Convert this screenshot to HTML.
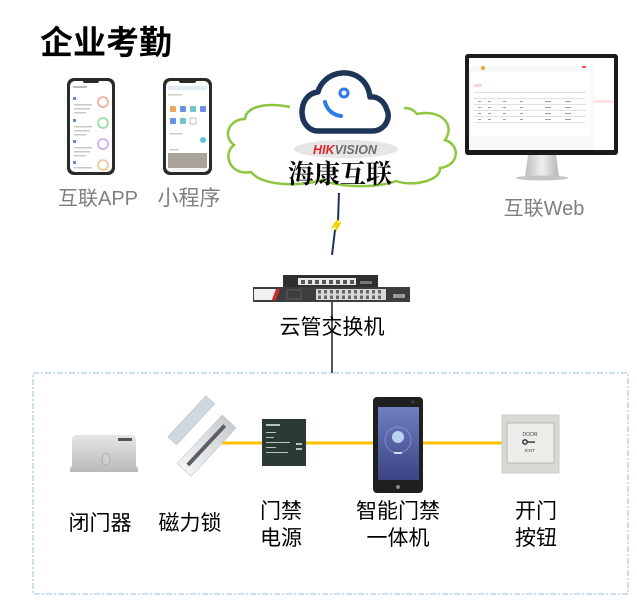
<!DOCTYPE html>
<html><head><meta charset="utf-8"><style>
html,body{margin:0;padding:0;background:#fff;}
svg{display:block;}
.cn{font-family:"Liberation Sans","Noto Sans CJK SC",sans-serif;}
</style></head><body>
<svg width="637" height="603" viewBox="0 0 637 603" xmlns="http://www.w3.org/2000/svg">
<defs>
<linearGradient id="silver" x1="0" y1="0" x2="0" y2="1"><stop offset="0" stop-color="#e6e6e6"/><stop offset="1" stop-color="#b9b9b9"/></linearGradient>
<linearGradient id="scr" x1="0" y1="0" x2="0" y2="1"><stop offset="0" stop-color="#6f7fc0"/><stop offset="1" stop-color="#3c4384"/></linearGradient>
<linearGradient id="neck" x1="0" y1="0" x2="1" y2="0"><stop offset="0" stop-color="#bdbdbd"/><stop offset="0.5" stop-color="#f0f0f0"/><stop offset="1" stop-color="#b5b5b5"/></linearGradient>
<linearGradient id="lock" x1="0" y1="0" x2="1" y2="0"><stop offset="0" stop-color="#f4f4f4"/><stop offset="1" stop-color="#c9ccd0"/></linearGradient>
</defs>

<!-- title -->
<text x="40" y="54" class="cn" font-size="33" font-weight="bold" fill="#000">企业考勤</text>

<!-- phone 1 -->
<rect x="67" y="78" width="48" height="97" rx="7" fill="#2a2a2a"/>
<rect x="70" y="81" width="42" height="91" rx="5" fill="#fff"/>
<rect x="83" y="79" width="16" height="4" rx="2" fill="#2a2a2a"/>
<rect x="73" y="86" width="14" height="2" fill="#bbb"/>
<g fill="#c8c8c8">
<rect x="74" y="104" width="18" height="1.5"/><rect x="74" y="108" width="16" height="1.5"/><rect x="74" y="112" width="12" height="1.5"/>
<rect x="74" y="126" width="18" height="1.5"/><rect x="74" y="130" width="16" height="1.5"/><rect x="74" y="134" width="12" height="1.5"/>
<rect x="74" y="147" width="18" height="1.5"/><rect x="74" y="151" width="16" height="1.5"/><rect x="74" y="155" width="12" height="1.5"/>
<rect x="74" y="167" width="18" height="1.5"/>
</g>
<g fill="#5b8fe0"><rect x="73" y="97" width="3" height="3"/><rect x="73" y="119" width="3" height="3"/><rect x="73" y="140" width="3" height="3"/><rect x="73" y="161" width="3" height="3"/></g>
<circle cx="103" cy="102" r="5" fill="none" stroke="#f2a58a" stroke-width="1.5"/>
<circle cx="103" cy="123" r="5" fill="none" stroke="#8fdc9b" stroke-width="1.5"/>
<circle cx="103" cy="144" r="5" fill="none" stroke="#caa2ec" stroke-width="1.5"/>
<circle cx="103" cy="165" r="5" fill="none" stroke="#f6c08a" stroke-width="1.5"/>

<!-- phone 2 -->
<rect x="163" y="78" width="49" height="97" rx="7" fill="#2a2a2a"/>
<rect x="166" y="81" width="43" height="91" rx="5" fill="#fff"/>
<rect x="179" y="79" width="17" height="4" rx="2" fill="#2a2a2a"/>
<rect x="168" y="86" width="39" height="4" fill="#e3ebf7"/>
<rect x="168" y="94" width="14" height="1.5" fill="#ccc"/>
<g>
<rect x="170" y="106" width="6" height="6" rx="1" fill="#f0a860"/>
<rect x="180" y="106" width="6" height="6" rx="1" fill="#6a8fe6"/>
<rect x="190" y="106" width="6" height="6" rx="1" fill="#6cc5cf"/>
<rect x="200" y="106" width="6" height="6" rx="1" fill="#6a8fe6"/>
<rect x="170" y="118" width="6" height="6" rx="1" fill="#6a8fe6"/>
<rect x="180" y="118" width="6" height="6" rx="1" fill="#6cc5cf"/>
<rect x="190" y="118" width="6" height="6" rx="1" fill="none" stroke="#bbb"/>
</g>
<rect x="169" y="133" width="14" height="1.5" fill="#ccc"/>
<circle cx="203" cy="140" r="3" fill="#58c7d6"/>
<rect x="169" y="149" width="10" height="1.5" fill="#ccc"/>
<rect x="168" y="153" width="39" height="15" fill="#a9a39a"/>
<rect x="168" y="168" width="39" height="3" fill="#f4f4f4"/>

<text x="98" y="205" class="cn" font-size="20" fill="#7f7f7f" text-anchor="middle">互联APP</text>
<text x="189" y="205" class="cn" font-size="21" fill="#7f7f7f" text-anchor="middle">小程序</text>

<!-- green cloud -->
<path d="M 290 107 C 265 102, 246 107, 245 119 C 229 119, 222 136, 234 145 C 222 154, 230 176, 251 172 C 262 186, 300 187, 322 180 C 342 188, 378 188, 396 181 C 412 187, 441 181, 440 168 C 459 166, 461 145, 445 140 C 456 124, 440 109, 417 114 C 413 109, 409 108, 404 108" fill="none" stroke="#8dc63f" stroke-width="2.5"/>

<!-- blue cloud icon -->
<path d="M 318 131 L 372 131 C 385 131, 391 118, 387 110 C 384 100, 376 96, 370 97 C 368 80, 355 72, 342 73 C 328 74, 320 84, 318 92 C 308 93, 302 102, 302 112 C 302 124, 310 131, 318 131 Z" fill="#fff" stroke="#1e3558" stroke-width="5.5" stroke-linejoin="round"/>
<circle cx="344" cy="93" r="4" fill="none" stroke="#2f7be5" stroke-width="3"/>
<path d="M 325 102 C 327 110, 333 115, 341 116" fill="none" stroke="#2f7be5" stroke-width="4" stroke-linecap="round"/>

<!-- hikvision -->
<ellipse cx="346" cy="149" rx="52" ry="9" fill="#e6e6e6"/>
<text x="345" y="154" font-family="Liberation Sans, sans-serif" font-size="12.5" font-weight="bold" font-style="italic" text-anchor="middle"><tspan fill="#e1222a">HIK</tspan><tspan fill="#6d6d6d">VISION</tspan></text>
<text x="340" y="183" font-family="'Liberation Serif','Noto Serif CJK SC',serif" font-size="26" font-weight="bold" fill="#000" text-anchor="middle">海康互联</text>

<!-- monitor -->
<rect x="465" y="54" width="153" height="101" rx="3" fill="#1b1b1b"/>
<rect x="469" y="58" width="145" height="92" fill="#f7f8fa"/>
<rect x="469" y="58" width="145" height="8" fill="#fff"/>
<circle cx="483" cy="68" r="2.2" fill="#e8b33d"/>
<rect x="582" y="66" width="4" height="2" fill="#e55"/>
<rect x="594" y="58" width="20" height="92" fill="#fff"/>
<rect x="594" y="100" width="20" height="3" fill="#fde3e3"/>
<rect x="471" y="72" width="120" height="64" fill="#fff"/>
<rect x="474" y="84" width="8" height="3" fill="#fbd6d6"/>
<g fill="#d6d8de">
<rect x="474" y="92" width="112" height="0.8"/><rect x="474" y="98" width="112" height="0.8"/><rect x="474" y="104" width="112" height="0.8"/>
<rect x="474" y="110" width="112" height="0.8"/><rect x="474" y="116" width="112" height="0.8"/><rect x="474" y="122" width="112" height="0.8"/>
</g>
<g fill="#9a9ea8">
<rect x="478" y="101" width="3" height="1"/><rect x="488" y="101" width="3" height="1"/><rect x="503" y="101" width="3" height="1"/><rect x="520" y="101" width="3" height="1"/><rect x="545" y="101" width="6" height="1"/><rect x="565" y="101" width="6" height="1"/>
<rect x="478" y="107" width="3" height="1"/><rect x="488" y="107" width="3" height="1"/><rect x="503" y="107" width="3" height="1"/><rect x="520" y="107" width="3" height="1"/><rect x="545" y="107" width="6" height="1"/><rect x="565" y="107" width="6" height="1"/>
<rect x="478" y="113" width="3" height="1"/><rect x="488" y="113" width="3" height="1"/><rect x="503" y="113" width="3" height="1"/><rect x="520" y="113" width="3" height="1"/><rect x="545" y="113" width="6" height="1"/><rect x="565" y="113" width="6" height="1"/>
<rect x="478" y="119" width="3" height="1"/><rect x="488" y="119" width="3" height="1"/><rect x="503" y="119" width="3" height="1"/><rect x="520" y="119" width="3" height="1"/><rect x="545" y="119" width="6" height="1"/><rect x="565" y="119" width="6" height="1"/>
</g>
<path d="M 528 155 L 556 155 L 559 177 L 525 177 Z" fill="url(#neck)"/>
<ellipse cx="542" cy="178" rx="26" ry="2.5" fill="#c4c4c4"/>
<text x="544" y="215" class="cn" font-size="20" fill="#7f7f7f" text-anchor="middle">互联Web</text>

<!-- lightning connector -->
<path d="M 339 193 L 338 221" stroke="#1e3558" stroke-width="2" fill="none"/>
<path d="M 338 220 L 334 226 L 339 224 L 335 231" stroke="#f4d000" stroke-width="2.5" fill="none"/>
<path d="M 335 230 L 332 255" stroke="#1e3558" stroke-width="2" fill="none"/>

<!-- switch -->
<rect x="283" y="275" width="95" height="13" fill="#2f2f2f"/>
<rect x="298" y="278" width="58" height="7" fill="#e9e9e9"/>
<g fill="#555"><rect x="301" y="280" width="4" height="4"/><rect x="308" y="280" width="4" height="4"/><rect x="315" y="280" width="4" height="4"/><rect x="322" y="280" width="4" height="4"/><rect x="329" y="280" width="4" height="4"/><rect x="336" y="280" width="4" height="4"/><rect x="343" y="280" width="4" height="4"/><rect x="350" y="280" width="4" height="4"/></g>
<rect x="360" y="281" width="12" height="3" fill="#777"/>
<rect x="253" y="287" width="157" height="15" fill="#3d3d3d"/>
<path d="M 254 289 L 276 289 L 272 300 L 254 300 Z" fill="#f0f0f0"/>
<path d="M 272 300 L 276 289 L 280 289 L 276 300 Z" fill="#d42a2a"/>
<rect x="287" y="290" width="14" height="9" fill="none" stroke="#666" stroke-width="0.8"/>
<rect x="316" y="289" width="70" height="11" fill="#d9d9d9"/>
<g fill="#666">
<rect x="318" y="290" width="3" height="3.5"/><rect x="324" y="290" width="3" height="3.5"/><rect x="330" y="290" width="3" height="3.5"/><rect x="336" y="290" width="3" height="3.5"/><rect x="342" y="290" width="3" height="3.5"/><rect x="348" y="290" width="3" height="3.5"/><rect x="354" y="290" width="3" height="3.5"/><rect x="360" y="290" width="3" height="3.5"/><rect x="366" y="290" width="3" height="3.5"/><rect x="372" y="290" width="3" height="3.5"/><rect x="378" y="290" width="3" height="3.5"/>
<rect x="318" y="295.5" width="3" height="3.5"/><rect x="324" y="295.5" width="3" height="3.5"/><rect x="330" y="295.5" width="3" height="3.5"/><rect x="336" y="295.5" width="3" height="3.5"/><rect x="342" y="295.5" width="3" height="3.5"/><rect x="348" y="295.5" width="3" height="3.5"/><rect x="354" y="295.5" width="3" height="3.5"/><rect x="360" y="295.5" width="3" height="3.5"/><rect x="366" y="295.5" width="3" height="3.5"/><rect x="372" y="295.5" width="3" height="3.5"/><rect x="378" y="295.5" width="3" height="3.5"/>
</g>
<rect x="393" y="294" width="12" height="4" fill="#999"/>
<line x1="332" y1="302" x2="332" y2="373" stroke="#555" stroke-width="2"/>
<text x="332" y="334" class="cn" font-size="21" fill="#000" text-anchor="middle">云管交换机</text>

<!-- dashed box -->
<rect x="33" y="373" width="595" height="221" fill="none" stroke="#bcd6ee" stroke-width="1.5" stroke-dasharray="6 2 2 2"/>

<!-- yellow lines -->
<g stroke="#ffc000" stroke-width="3">
<line x1="222" y1="443" x2="262" y2="443"/>
<line x1="306" y1="443" x2="373" y2="443"/>
<line x1="423" y1="443" x2="502" y2="443"/>
</g>

<!-- door closer -->
<path d="M 72 466 L 72 440 Q 72 435 77 435 L 131 435 Q 136 435 136 440 L 136 466 L 138 468 L 138 472 L 70 472 L 70 468 Z" fill="url(#silver)"/>
<rect x="118" y="438" width="14" height="3" fill="#555"/>
<ellipse cx="106" cy="459" rx="4" ry="6" fill="#cfcfcf" stroke="#aaa" stroke-width="0.8"/>

<!-- magnetic lock -->
<g transform="rotate(-47 192 421)">
<rect x="164" y="414" width="56" height="12" fill="#cfd8df" stroke="#b8c0c8" stroke-width="0.6"/>
</g>
<g transform="rotate(-47 207 446)">
<rect x="174" y="436" width="66" height="19" fill="url(#lock)" stroke="#c0c4c8" stroke-width="0.6"/>
<rect x="180" y="443" width="54" height="4" fill="#5a5e66"/>
</g>

<!-- power supply -->
<rect x="262" y="419" width="44" height="47" fill="#2b3a32"/>
<g fill="#b9c4bd">
<rect x="266" y="424" width="14" height="2"/><rect x="266" y="432" width="10" height="1"/><rect x="266" y="437" width="8" height="1"/>
<rect x="266" y="442" width="24" height="1"/><rect x="266" y="447" width="10" height="1"/><rect x="266" y="452" width="22" height="1"/>
<rect x="296" y="443" width="6" height="2"/><rect x="296" y="448" width="6" height="2"/>
</g>

<!-- terminal -->
<rect x="373" y="397" width="50" height="96" rx="4" fill="#1f1f1f"/>
<rect x="378" y="407" width="41" height="73" fill="url(#scr)"/>
<circle cx="398" cy="440" r="13" fill="none" stroke="#8ea0da" stroke-width="1" opacity="0.7"/>
<circle cx="398" cy="437" r="6" fill="#b9d2f2"/>
<rect x="394" y="452" width="8" height="2" fill="#cfd8f0"/>
<circle cx="413" cy="402" r="1.5" fill="#444"/>
<circle cx="398" cy="487" r="2" fill="#888"/>

<!-- exit button -->
<rect x="502" y="415" width="57" height="58" fill="#d8d9d3" stroke="#c4c5bf" stroke-width="0.8"/>
<rect x="507" y="423" width="47" height="40" fill="#ecece8" stroke="#b0b0aa" stroke-width="0.8"/>
<text x="530" y="436" font-family="Liberation Sans, sans-serif" font-size="5" fill="#444" text-anchor="middle">DOOR</text>
<circle cx="525" cy="442" r="2.2" fill="none" stroke="#222" stroke-width="1.3"/>
<rect x="527" y="441.4" width="8" height="1.3" fill="#222"/>
<text x="530" y="452" font-family="Liberation Sans, sans-serif" font-size="4.5" fill="#444" text-anchor="middle">EXIT</text>

<!-- labels -->
<g class="cn" font-size="21" fill="#000" text-anchor="middle">
<text x="100" y="530">闭门器</text>
<text x="190" y="530">磁力锁</text>
<text x="281" y="518">门禁</text>
<text x="281" y="545">电源</text>
<text x="398" y="518">智能门禁</text>
<text x="398" y="545">一体机</text>
<text x="536" y="518">开门</text>
<text x="536" y="545">按钮</text>
</g>
</svg>
</body></html>
